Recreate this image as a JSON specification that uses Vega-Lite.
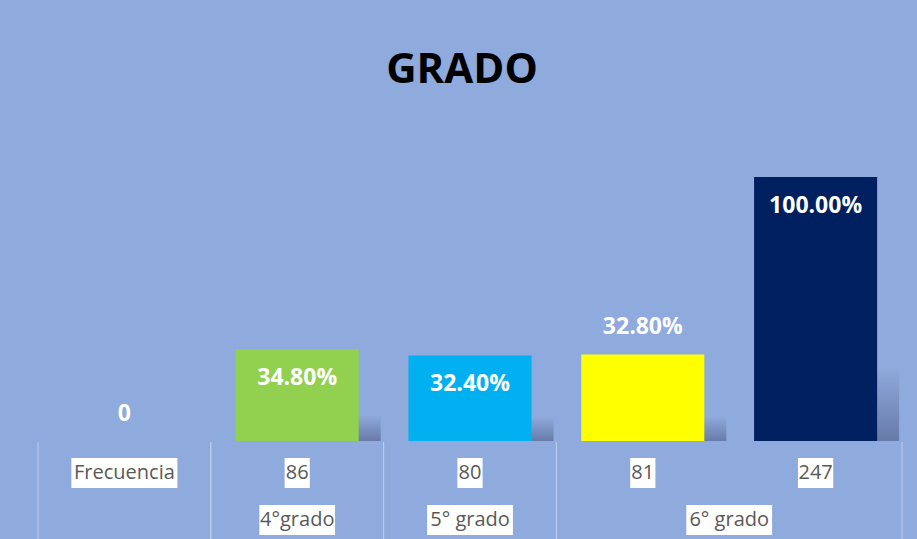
{
  "$schema": "https://vega.github.io/schema/vega-lite/v6.json",
  "background": "#8FAADC",
  "padding": {"left": 37, "right": 16, "top": 49, "bottom": 0},
  "title": {"text": "GRADO", "fontSize": 42, "font": "Open Sans", "fontWeight": "bold", "color": "#000000", "offset": 85, "anchor": "middle", "dx": -8},
  "datasets": {
    "bars": [
      {"c": "Frecuencia", "g": "", "pct": 0},
      {"c": "86", "g": "4°grado", "pct": 0.348},
      {"c": "80", "g": "5° grado", "pct": 0.324},
      {"c": "81", "g": "6° grado", "pct": 0.328},
      {"c": "247", "g": "6° grado", "pct": 1.0}
    ],
    "groups": [
      {"g": "", "first": "Frecuencia", "last": "Frecuencia"},
      {"g": "4°grado", "first": "86", "last": "86"},
      {"g": "5° grado", "first": "80", "last": "80"},
      {"g": "6° grado", "first": "81", "last": "247"}
    ]
  },
  "spacing": 0,
  "resolve": {"scale": {"x": "shared"}},
  "config": {"view": {"stroke": null}},
  "vconcat": [
    {
      "width": 864,
      "height": 264,
      "data": {"name": "bars"},
      "encoding": {
        "x": {"field": "c", "type": "nominal", "sort": null, "scale": {"domain": ["Frecuencia", "86", "80", "81", "247"], "paddingInner": 0, "paddingOuter": 0}, "axis": null}
      },
      "layer": [
        {
          "transform": [{"filter": "datum.pct > 0"}],
          "mark": {"type": "bar", "width": {"band": 0.712}, "xOffset": 22, "color": {"gradient": "linear", "x1": 0, "y1": 0, "x2": 0, "y2": 1, "stops": [{"offset": 0, "color": "rgba(55,65,105,0)"}, {"offset": 0.72, "color": "rgba(55,65,105,0)"}, {"offset": 1, "color": "rgba(55,65,105,0.45)"}]}},
          "encoding": {"y": {"field": "pct", "type": "quantitative", "scale": {"domain": [0, 1], "nice": false}, "axis": null}}
        },
        {
          "mark": {"type": "bar", "width": {"band": 0.712}},
          "encoding": {
            "y": {"field": "pct", "type": "quantitative", "scale": {"domain": [0, 1], "nice": false}, "axis": null},
            "color": {"field": "c", "type": "nominal", "scale": {"domain": ["Frecuencia", "86", "80", "81", "247"], "range": ["#8FAADC", "#92D050", "#00B0F0", "#FFFF00", "#002060"]}, "legend": null}
          }
        },
        {
          "transform": [{"filter": {"field": "c", "oneOf": ["86", "80", "247"]}}],
          "mark": {"type": "text", "baseline": "middle", "align": "center", "dy": 29, "font": "Open Sans", "fontWeight": "bold", "fontSize": 23, "color": "#FFFFFF"},
          "encoding": {
            "y": {"field": "pct", "type": "quantitative", "scale": {"domain": [0, 1], "nice": false}, "axis": null},
            "text": {"field": "pct", "type": "quantitative", "format": ".2%"}
          }
        },
        {
          "transform": [{"filter": {"field": "c", "oneOf": ["Frecuencia", "81"]}}],
          "mark": {"type": "text", "baseline": "middle", "align": "center", "dy": -27, "font": "Open Sans", "fontWeight": "bold", "fontSize": 23, "color": "#FFFFFF"},
          "encoding": {
            "y": {"field": "pct", "type": "quantitative", "scale": {"domain": [0, 1], "nice": false}, "axis": null},
            "text": {"condition": {"test": "datum.pct == 0", "value": "0"}, "field": "pct", "type": "quantitative", "format": ".2%"}
          }
        }
      ]
    },
    {
      "width": 864,
      "height": 99,
      "layer": [
        {
          "data": {"name": "groups"},
          "mark": {"type": "rule", "color": "#BDCDEB", "strokeWidth": 1},
          "encoding": {
            "x": {"field": "first", "type": "nominal", "bandPosition": 0, "scale": {"domain": ["Frecuencia", "86", "80", "81", "247"], "paddingInner": 0, "paddingOuter": 0}, "axis": null}
          }
        },
        {
          "data": {"name": "groups"},
          "mark": {"type": "rule", "color": "#BDCDEB", "strokeWidth": 1},
          "encoding": {
            "x": {"field": "last", "type": "nominal", "bandPosition": 1, "scale": {"domain": ["Frecuencia", "86", "80", "81", "247"], "paddingInner": 0, "paddingOuter": 0}, "axis": null}
          }
        },
        {
          "data": {"name": "bars"},
          "transform": [{"calculate": "length(datum.c) * 10.1 + 5", "as": "w"}],
          "mark": {"type": "tick", "orient": "horizontal", "thickness": 30, "color": "#FFFFFF", "opacity": 1},
          "encoding": {
            "x": {"field": "c", "type": "nominal", "scale": {"domain": ["Frecuencia", "86", "80", "81", "247"], "paddingInner": 0, "paddingOuter": 0}, "axis": null},
            "y": {"datum": "1", "type": "nominal", "scale": {"type": "band", "domain": ["1", "2"], "paddingInner": 0.3617, "paddingOuter": 0.234, "align": 0.727}, "axis": null},
            "size": {"field": "w", "type": "quantitative", "scale": null}
          }
        },
        {
          "data": {"name": "bars"},
          "mark": {"type": "text", "baseline": "middle", "align": "center", "font": "Open Sans", "fontSize": 20, "color": "#595959"},
          "encoding": {
            "x": {"field": "c", "type": "nominal", "scale": {"domain": ["Frecuencia", "86", "80", "81", "247"], "paddingInner": 0, "paddingOuter": 0}, "axis": null},
            "y": {"datum": "1", "type": "nominal", "axis": null},
            "text": {"field": "c", "type": "nominal"}
          }
        },
        {
          "data": {"name": "groups"},
          "transform": [{"filter": "datum.g != '' && datum.first == datum.last"}, {"calculate": "length(datum.g) * 10.1 + 5", "as": "w"}],
          "mark": {"type": "tick", "orient": "horizontal", "thickness": 30, "color": "#FFFFFF", "opacity": 1},
          "encoding": {
            "x": {"field": "first", "type": "nominal", "scale": {"domain": ["Frecuencia", "86", "80", "81", "247"], "paddingInner": 0, "paddingOuter": 0}, "axis": null},
            "y": {"datum": "2", "type": "nominal", "axis": null},
            "size": {"field": "w", "type": "quantitative", "scale": null}
          }
        },
        {
          "data": {"name": "groups"},
          "transform": [{"filter": "datum.first != datum.last"}, {"calculate": "length(datum.g) * 10.1 + 5", "as": "w"}],
          "mark": {"type": "tick", "orient": "horizontal", "thickness": 30, "color": "#FFFFFF", "opacity": 1, "xOffset": {"expr": "bandwidth('x') / 2"}},
          "encoding": {
            "x": {"field": "first", "type": "nominal", "scale": {"domain": ["Frecuencia", "86", "80", "81", "247"], "paddingInner": 0, "paddingOuter": 0}, "axis": null},
            "y": {"datum": "2", "type": "nominal", "axis": null},
            "size": {"field": "w", "type": "quantitative", "scale": null}
          }
        },
        {
          "data": {"name": "groups"},
          "transform": [{"filter": "datum.g != '' && datum.first == datum.last"}],
          "mark": {"type": "text", "baseline": "middle", "align": "center", "font": "Open Sans", "fontSize": 20, "color": "#595959"},
          "encoding": {
            "x": {"field": "first", "type": "nominal", "scale": {"domain": ["Frecuencia", "86", "80", "81", "247"], "paddingInner": 0, "paddingOuter": 0}, "axis": null},
            "y": {"datum": "2", "type": "nominal", "axis": null},
            "text": {"field": "g", "type": "nominal"}
          }
        },
        {
          "data": {"name": "groups"},
          "transform": [{"filter": "datum.first != datum.last"}],
          "mark": {"type": "text", "baseline": "middle", "align": "center", "font": "Open Sans", "fontSize": 20, "color": "#595959"},
          "encoding": {
            "x": {"field": "last", "type": "nominal", "bandPosition": 0, "scale": {"domain": ["Frecuencia", "86", "80", "81", "247"], "paddingInner": 0, "paddingOuter": 0}, "axis": null},
            "y": {"datum": "2", "type": "nominal", "axis": null},
            "text": {"field": "g", "type": "nominal"}
          }
        }
      ]
    }
  ]
}
